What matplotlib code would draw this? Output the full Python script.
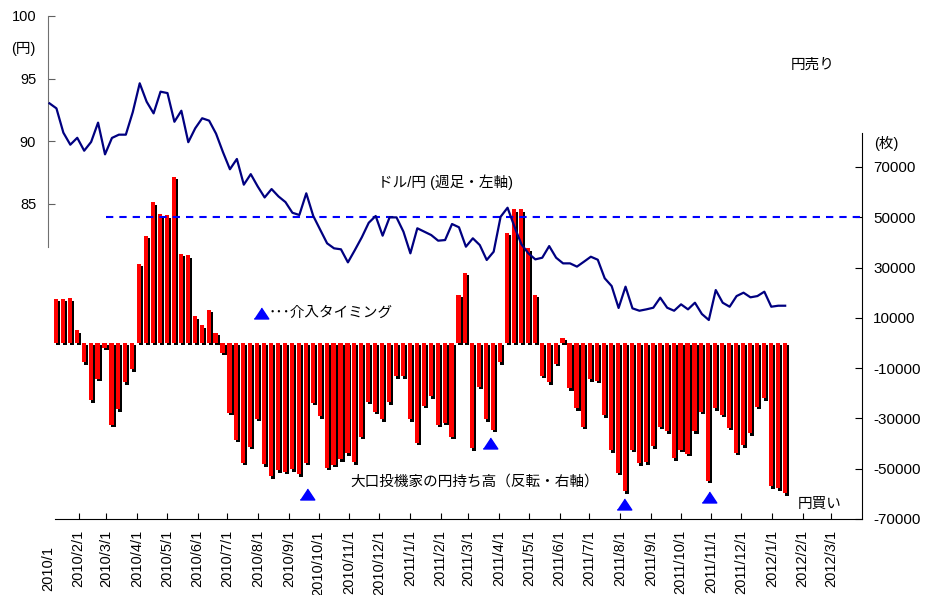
import numpy as np
import pandas as pd
import matplotlib
matplotlib.use('Agg')
import matplotlib.pyplot as plt
import matplotlib.dates as mdates
import matplotlib.transforms as mtransforms

plt.rcParams['font.family'] = ['Liberation Sans', 'Noto Sans CJK JP']

# weekly USD/JPY (left axis), first week 2010/1/1
usdjpy = [93.03, 92.63, 90.69, 89.73, 90.28, 89.25, 89.95, 91.49, 88.96, 90.27,
          90.53, 90.53, 92.33, 94.63, 93.16, 92.23, 93.96, 93.85, 91.56, 92.44,
          89.93, 91.04, 91.84, 91.65, 90.61, 89.13, 87.77, 88.59, 86.54, 87.38,
          86.40, 85.52, 86.19, 85.60, 85.15, 84.30, 84.12, 85.85, 84.05, 82.95,
          81.86, 81.46, 81.38, 80.34, 81.32, 82.34, 83.50, 84.04, 82.47, 83.93,
          83.93, 82.79, 81.06, 83.06, 82.79, 82.52, 82.07, 82.12, 83.40, 83.14,
          81.59, 82.26, 81.72, 80.53, 81.19, 83.98, 84.70, 83.18, 81.78, 81.06,
          80.58, 80.71, 81.64, 80.71, 80.26, 80.26, 80.00, 80.39, 80.79, 80.55,
          79.07, 78.45, 76.70, 78.40, 76.67, 76.48, 76.59, 76.72, 77.52, 76.72,
          76.48, 76.99, 76.59, 77.12, 76.22, 75.74, 78.13, 77.12, 76.80, 77.65,
          77.92, 77.55, 77.65, 78.00, 76.80, 76.88, 76.88]

# large speculators' yen position, inverted (right axis), first week 2010/1/8
yen_pos = [17600, 17500, 17700, 5000, -7600, -22700, -14200, -1900, -32500, -26400,
           -15600, -10500, 31500, 42700, 56000, 51100, 50700, 66100, 35500, 34900,
           10700, 7100, 13300, 4000, -3900, -27700, -38400, -47600, -41300, -30100,
           -48300, -52900, -50600, -51200, -50300, -52300, -47600, -23800, -29100, -49600,
           -48500, -46200, -43900, -47500, -37300, -23300, -27300, -30300, -23600, -13300,
           -13300, -30300, -39700, -25000, -21100, -32600, -31700, -37300, 19100, 28000,
           -41900, -17400, -30300, -34600, -7700, 43800, 53200, 53200, 37700, 19100,
           -13100, -15700, -8300, 2000, -18000, -26000, -33400, -14400, -15000, -28800,
           -42700, -51700, -59000, -42500, -47800, -47500, -41100, -33300, -35200, -45800,
           -42500, -44100, -35200, -27300, -54700, -26000, -28600, -33700, -43600, -40600,
           -35900, -25300, -22000, -56900, -57800, -59800]

# intervention timing markers
interv_dates = ['2010-09-19', '2011-03-23', '2011-08-05', '2011-10-30']
interv_levels = [-59900, -39600, -64200, -61200]

ref_level = 50000
ref_start = '2010-03-01'

month_ticks = pd.date_range('2010-02-01', '2012-03-01', freq='MS')
month_labels = [f'{d.year}/{d.month}/{d.day}' for d in month_ticks]
right_ticks = np.arange(-70000, 70001, 20000)
left_ticks = [85, 90, 95, 100]

line_dates = pd.date_range('2010-01-01', periods=len(usdjpy), freq='7D')
bar_dates = line_dates[1:]

W, H = 933, 595
fig = plt.figure(figsize=(W / 100, H / 100), dpi=100)


def fx(px):
    return px / W


def fy(py):
    return 1 - py / H


ax = fig.add_axes([fx(48), fy(519), fx(862) - fx(48), fy(16) - fy(519)])
ax2 = ax.twinx()

xb = mdates.date2num(bar_dates)
vals = np.array(yen_pos)
ax.bar(xb + 3, vals, width=4.2, bottom=-1000, color='black', linewidth=0, zorder=1)
ax.bar(xb + 1, vals, width=4.2, color='#ff0000', linewidth=0, zorder=2)

x0 = mdates.date2num(pd.Timestamp('2010-01-01'))
x1 = mdates.date2num(pd.Timestamp('2012-04-01'))
ax.hlines(ref_level, mdates.date2num(pd.Timestamp(ref_start)), x1,
          colors='#0000ff', linestyles=(0, (3.5, 2.9)), lw=1.5, zorder=3)

tri = [(-1, -0.75), (1, -0.75), (0, 0.75)]
ax.plot(mdates.date2num(pd.to_datetime(interv_dates)), interv_levels, ls='none',
        marker=tri, ms=10.5, color='#0000ff', zorder=4, clip_on=False)

ax2.plot(mdates.date2num(line_dates) + 1.5, usdjpy, color='#000080', lw=1.6, zorder=3)

ax.set_xlim(x0, x1)
ax.set_ylim(-70000, 130000)
ax2.set_ylim(59.86, 100)

ax.yaxis.tick_right()
ax.set_yticks(right_ticks)
ax.set_yticklabels([str(v) for v in right_ticks])
ax.tick_params(axis='y', direction='in', length=5, pad=8, labelsize=11,
               right=True, left=False)
ax.set_xticks(mdates.date2num(month_ticks))
ax.set_xticklabels(month_labels)
ax.tick_params(axis='x', direction='in', length=4, pad=8, labelsize=10.5, labelrotation=90)

ax2.yaxis.tick_left()
ax2.set_yticks(left_ticks)
ax2.tick_params(axis='y', direction='in', length=5, pad=8.5, labelsize=10.5,
                left=True, right=False, color='#606060')

ax.spines['left'].set_visible(False)
ax.spines['top'].set_visible(False)
ax.spines['right'].set_bounds(-70000, 83480)
ax.spines['bottom'].set_bounds(mdates.date2num(pd.Timestamp('2010-01-08')), x1)
for s in ['right', 'top', 'bottom']:
    ax2.spines[s].set_visible(False)
ax2.spines['left'].set_bounds(81.56, 100)
ax2.spines['left'].set_color('#707070')

# first date label sits lower than the others
blend = mtransforms.blended_transform_factory(ax.transData, fig.transFigure)
ax.text(x0, fy(591), '2010/1', rotation=90, ha='center', va='bottom',
        fontsize=10.5, transform=blend)

fs = 10.5
fig.text(fx(23), fy(49), '(円)', ha='center', va='center', fontsize=fs)
fig.text(fx(813), fy(65), '円売り', ha='center', va='center', fontsize=fs)
fig.text(fx(886), fy(143), '(枚)', ha='center', va='center', fontsize=fs)
fig.text(fx(446), fy(182), 'ドル/円 (週足・左軸)', ha='center', va='center', fontsize=fs)
ax.plot([fx(261)], [fy(313)], marker=tri, ms=10.5, color='#0000ff',
        transform=fig.transFigure, clip_on=False)
fig.text(fx(269), fy(313), '･･･介入タイミング', ha='left', va='center', fontsize=fs)
fig.text(fx(475), fy(482), '大口投機家の円持ち高（反転・右軸）', ha='center', va='center',
         fontsize=fs)
fig.text(fx(820), fy(504), '円買い', ha='center', va='center', fontsize=fs)

fig.savefig('out.png', dpi=100)
